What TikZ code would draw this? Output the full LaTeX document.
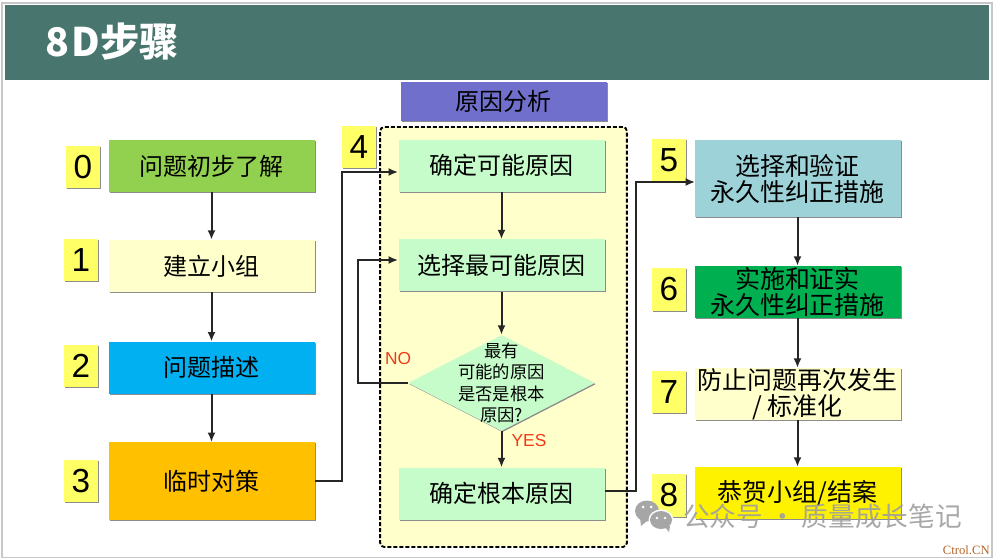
\documentclass[tikz,border=0pt]{standalone}
\usepackage{fontspec}
\setmainfont{Liberation Sans}
\newfontfamily\cjk{Noto Sans CJK SC}
\newfontfamily\ctrlfont{Liberation Serif}
\usetikzlibrary{positioning, shapes.geometric, shadows, arrows.meta}
\definecolor{bandgreen}{HTML}{48766E}
\definecolor{headblue}{HTML}{7070CC}
\definecolor{paleyellow}{HTML}{FFFFCC}
\definecolor{palegreen}{HTML}{C6FCCA}
\definecolor{leafgreen}{HTML}{92D050}
\definecolor{skyblue}{HTML}{00B0F0}
\definecolor{amber}{HTML}{FFC000}
\definecolor{paleteal}{HTML}{9DD3D8}
\definecolor{deepgreen}{HTML}{00B050}
\definecolor{tagyellow}{HTML}{FFFF66}
\definecolor{rednote}{HTML}{F03A17}
\definecolor{ctrlbrown}{HTML}{B5652A}
\tikzset{boxshadow/.style = {drop shadow={shadow xshift=0.8pt, shadow yshift=-0.8pt, fill=black!45, opacity=1}}}
\tikzset{stepbox/.style = {boxshadow, align=center, inner sep=0pt, minimum width=154.5pt, minimum height=39pt, font=\cjk\fontsize{18}{19.5}\selectfont}}
\tikzset{widebox/.style = {stepbox, font=\cjk\fontsize{18.7}{19.5}\selectfont}}
\tikzset{tagbox/.style = {boxshadow, fill=tagyellow, inner sep=0pt, minimum width=25pt, minimum height=32pt, font=\fontsize{25}{25}\selectfont}}
\tikzset{decision/.style = {diamond, fill=palegreen, boxshadow, inner sep=0pt, minimum width=140pt, minimum height=72pt}}
\tikzset{decisiontext/.style = {align=center, inner sep=0pt, font=\cjk\fontsize{13}{16}\selectfont}}
\tikzset{note/.style = {text=rednote, inner sep=0pt, font=\fontsize{13}{13}\selectfont}}
\tikzset{link/.style = {-{Latex[length=7pt, width=6pt]}, line width=1.5pt, black!85}}

\begin{document}
\begin{tikzpicture}[x=0.75pt, y=-0.75pt]
  \useasboundingbox (0,0) rectangle (994,557);
  \draw [black!22, line width=1.5pt] (2,3) rectangle (992,558);
  % title band
  \node [fill=bandgreen, minimum width=738pt, minimum height=56.5pt, inner sep=0pt] (band) at (497,42.5) {};
  \node [text=white, anchor=west, inner sep=0pt, font=\cjk\bfseries\fontsize{29.5}{29.5}\selectfont] (title) at (45,42) {8\kern2pt D步骤};

  % left column
  \node [stepbox, fill=leafgreen] (s0) at (211.5,166) {问题初步了解};
  \node [stepbox, fill=paleyellow, below=35.5pt of s0] (s1) {建立小组};
  \node [stepbox, fill=skyblue, below=37pt of s1] (s2) {问题描述};
  \node [stepbox, fill=amber, minimum height=58pt, below=36pt of s2] (s3) {临时对策};
  \node [tagbox] (n0) at (83,167) {0};
  \node [tagbox] (n1) at (81,260) {1};
  \node [tagbox] (n2) at (81,366) {2};
  \node [tagbox] (n3) at (81,481) {3};

  % middle group
  \node [draw=black, line width=1.4pt, dash pattern=on 3pt off 1.5pt, fill=paleyellow, rounded corners=3pt, minimum width=185pt, minimum height=315pt, inner sep=0pt] (group) at (503.5,337) {};
  \node [fill=headblue, boxshadow, minimum width=154.5pt, minimum height=29pt, inner sep=0pt, font=\cjk\fontsize{18}{18}\selectfont] (head) at (503.5,101.5) {原因分析};
  \node [stepbox, fill=palegreen] (c1) at (501.5,165.5) {确定可能原因};
  \node [stepbox, fill=palegreen, below=35.5pt of c1] (c2) {选择最可能原因};
  \node [decision, label={[decisiontext]center:{最有\\可能的原因\\是否是根本\\原因?}}] (c3) at (501.5,383) {};
  \node [stepbox, fill=palegreen] (c4) at (501.5,493.5) {确定根本原因};
  \node [tagbox] (n4) at (359,147) {4};
  \node [note] (no) at (398,359) {NO};
  \node [note] (yes) at (529,441) {YES};

  % right column
  \node [widebox, fill=paleteal, minimum height=58pt] (s5) at (797.5,178.5) {选择和验证\\永久性纠正措施};
  \node [widebox, fill=deepgreen] (s6) at (797.5,292) {实施和证实\\永久性纠正措施};
  \node [widebox, fill=paleyellow] (s7) at (797.5,394) {防止问题再次发生\\/ 标准化};
  \node [widebox, fill=yellow] (s8) at (797.5,493) {恭贺小组/结案};
  \node [tagbox] (n5) at (669,160) {5};
  \node [tagbox] (n6) at (669,289.5) {6};
  \node [tagbox] (n7) at (669,392) {7};
  \node [tagbox] (n8) at (669,495.5) {8};

  \coordinate (in4) at (398,172);
  \coordinate (in2) at (398,260);
  \coordinate (in5) at (695,182);
  \coordinate (out3) at (342,481);
  \coordinate (back) at (358,383);
  \coordinate (up5) at (636,491);

  \draw [link] (s0) -- (s1);
  \draw [link] (s1) -- (s2);
  \draw [link] (s2) -- (s3);
  \draw [link] (c1) -- (c2);
  \draw [link] (c2) -- (c3);
  \draw [link] (c3) -- (c4);
  \draw [link] (s5) -- (s6);
  \draw [link] (s6) -- (s7);
  \draw [link] (s7) -- (s8);

  \draw [link] (s3.east |- out3) -- (out3) |- (in4);
  \draw [link] (c3.west) -- (back) |- (in2);
  \draw [link] (c4.east |- up5) -- (up5) |- (in5);

  % watermark
  \fill [black!35] (647,511) ellipse [x radius=12, y radius=10.5];
  \fill [black!35] (640,518) -- (648,520) -- (641,526) -- cycle;
  \fill [white] (661,520) ellipse [x radius=12.5, y radius=10.5];
  \fill [black!35] (661,520) ellipse [x radius=11, y radius=9];
  \fill [black!35] (664,526) -- (670,526) -- (669,532) -- cycle;
  \fill [white] (643,507) circle [radius=1.5] (651,507) circle [radius=1.5] (657,518) circle [radius=1.3] (665,518) circle [radius=1.3];
  \node [text=black!38, text opacity=0.9, anchor=west, inner sep=0pt, font=\cjk\fontsize{20}{20}\selectfont] (mark) at (683,516) {公众号 · 质量成长笔记};
  \node [text=ctrlbrown, anchor=east, inner sep=0pt, font=\ctrlfont\fontsize{9.5}{9.5}\selectfont] (ctrl) at (990,550) {Ctrol.CN};
\end{tikzpicture}
\end{document}
